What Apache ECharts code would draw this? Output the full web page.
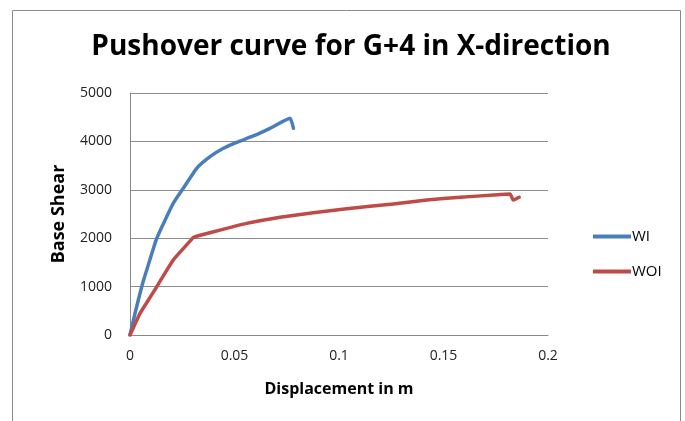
<!DOCTYPE html>
<html>
<head>
<meta charset="utf-8">
<script src="https://cdn.jsdelivr.net/npm/echarts@6/dist/echarts.min.js"></script>
<style>
  html, body { margin: 0; padding: 0; background: #fff; }
  #chart { width: 685px; height: 421px; }
</style>
</head>
<body>
<div id="chart"></div>
<script>
// displacement (m) / base shear pairs
var wiX = [0, 0.0024, 0.0056, 0.008, 0.0128, 0.0207, 0.0255, 0.0319, 0.0383, 0.0447, 0.051, 0.059, 0.067, 0.0766, 0.0782];
var wiY = [0, 448, 998, 1343, 1998, 2721, 3031, 3444, 3684, 3857, 3981, 4112, 4270, 4477, 4270];
var woiX = [0, 0.0048, 0.0088, 0.0128, 0.0207, 0.0295, 0.0303, 0.04, 0.0558, 0.0718, 0.0877, 0.1037, 0.126, 0.142, 0.158, 0.174, 0.1818, 0.1834, 0.1862];
var woiY = [0, 448, 723, 998, 1550, 1977, 2018, 2134, 2307, 2432, 2527, 2610, 2707, 2789, 2845, 2893, 2913, 2789, 2845];
var seriesNames = ['WI', 'WOI'];
var xTicks = [0, 0.05, 0.1, 0.15, 0.2];

function pairs(xs, ys) {
    var out = [];
    for (var i = 0; i < xs.length; i++) out.push([xs[i], ys[i]]);
    return out;
}

var myChart = echarts.init(document.getElementById('chart'));
var font = 'Open Sans';
var option = {
    animation: false,
    backgroundColor: '#fff',
    graphic: [{
        type: 'rect',
        shape: { x: 12.5, y: 10.5, width: 668, height: 420 },
        style: { fill: 'none', stroke: '#8a8a8a', lineWidth: 1 }
    }],
    title: {
        text: 'Pushover curve for G+4 in X-direction',
        left: 346, top: 28, textAlign: 'center',
        textStyle: { fontFamily: font, fontSize: 28, fontWeight: 'bold', color: '#000' }
    },
    grid: { left: 130, right: 137, top: 93, bottom: 86 },
    legend: {
        orient: 'vertical',
        left: 588, top: 224,
        itemGap: 20,
        itemWidth: 38, itemHeight: 4,
        icon: 'rect',
        textStyle: { fontFamily: font, fontSize: 15, color: '#000', padding: [0, 0, 0, -4] },
        data: seriesNames
    },
    xAxis: {
        type: 'value',
        min: 0, max: 0.2, interval: 0.05,
        name: 'Displacement in m',
        nameLocation: 'middle', nameGap: 46,
        nameTextStyle: { fontFamily: font, fontSize: 16, fontWeight: 'bold', color: '#000' },
        axisLine: { show: true, lineStyle: { color: '#888' } },
        axisTick: { show: false },
        splitLine: { show: false },
        axisLabel: {
            fontFamily: font, fontSize: 14, color: '#222', margin: 14,
            formatter: function (v) { return xTicks.indexOf(v) >= 0 ? String(v) : ''; }
        }
    },
    yAxis: {
        type: 'value',
        min: 0, max: 5000, interval: 1000,
        name: 'Base Shear',
        nameLocation: 'middle', nameGap: 62,
        nameTextStyle: { fontFamily: font, fontSize: 18, fontWeight: 'bold', color: '#000' },
        axisLine: { show: true, lineStyle: { color: '#888' } },
        axisTick: { show: false },
        splitLine: { lineStyle: { color: '#8c8c8c' } },
        axisLabel: {
            fontFamily: font, fontSize: 14, color: '#222', margin: 18,
            formatter: function (v) { return String(v); }
        }
    },
    series: [{
        name: 'WI',
        type: 'line',
        data: pairs(wiX, wiY),
        showSymbol: false,
        smooth: 0.15,
        lineStyle: { color: '#4a7ebb', width: 3.5, join: 'round', cap: 'round' },
        itemStyle: { color: '#4a7ebb' }
    }, {
        name: 'WOI',
        type: 'line',
        data: pairs(woiX, woiY),
        showSymbol: false,
        smooth: 0.15,
        lineStyle: { color: '#be4b48', width: 3.5, join: 'round', cap: 'round' },
        itemStyle: { color: '#be4b48' }
    }]
};
myChart.setOption(option);
</script>
</body>
</html>
